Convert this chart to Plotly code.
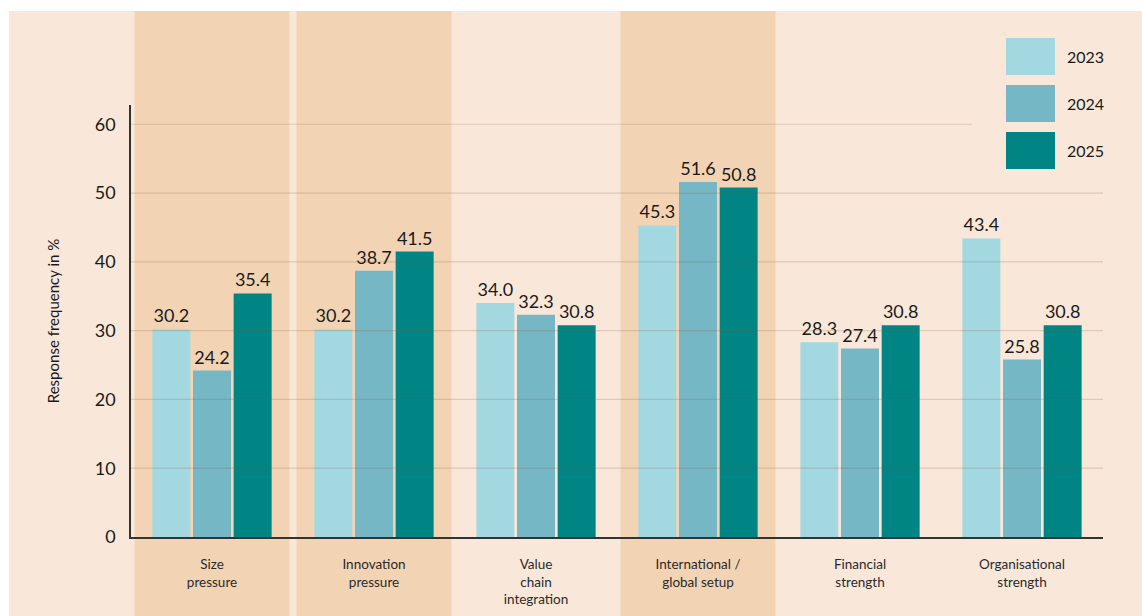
import plotly.graph_objects as go

categories = ["Size<br>pressure", "Innovation<br>pressure", "Value<br>chain<br>integration",
              "International /<br>global setup", "Financial<br>strength", "Organisational<br>strength"]
years = ["2023", "2024", "2025"]
values_2023 = [30.2, 30.2, 34.0, 45.3, 28.3, 43.4]
values_2024 = [24.2, 38.7, 32.3, 51.6, 27.4, 25.8]
values_2025 = [35.4, 41.5, 30.8, 50.8, 30.8, 30.8]
series = [values_2023, values_2024, values_2025]
colors = ["#A3D8E1", "#75B7C5", "#008484"]
shaded_categories = [0, 1, 3]
y_ticks = [0, 10, 20, 30, 40, 50, 60]

FONT = "Lato, 'Source Sans Pro', 'Noto Sans', sans-serif"
W, H = 1142, 616
L, R, T, B = 131, 39, 105, 79
PW, PH = W - L - R, H - T - B


def px_x(px):
    return (px - L) / PW


def px_y(py):
    return (H - B - py) / PH


fig = go.Figure()
for name, vals, col in zip(years, series, colors):
    fig.add_trace(go.Bar(
        x=list(range(len(categories))), y=vals, name=name,
        marker=dict(color=col, line=dict(width=0)),
        texttemplate="%{y:.1f}", textposition="outside",
        textfont=dict(family=FONT, size=18, color="#1a1a1a"),
        cliponaxis=False, showlegend=False,
    ))

shapes = []
# page background
shapes.append(dict(type="rect", xref="paper", yref="paper",
                   x0=px_x(9), x1=px_x(W + 5), y0=px_y(H + 5), y1=px_y(11),
                   fillcolor="#F9E8DA", line=dict(width=0), layer="below"))
# shaded category bands
for i in shaded_categories:
    shapes.append(dict(type="rect", xref="x", yref="paper",
                       x0=i - 0.478, x1=i + 0.478, y0=px_y(H + 5), y1=px_y(11),
                       fillcolor="#F2D4B4", line=dict(width=0), layer="below"))
# gridlines drawn above bars
for t in y_ticks[1:]:
    x1 = px_x(972) if t == y_ticks[-1] else 1
    shapes.append(dict(type="line", xref="paper", yref="y", x0=0, x1=x1, y0=t, y1=t,
                       line=dict(color="rgba(130,95,65,0.22)", width=1.2), layer="above"))
# legend squares
annotations = []
for k, (name, col) in enumerate(zip(years, colors)):
    top = 38 + k * 47
    shapes.append(dict(type="rect", xref="paper", yref="paper",
                       x0=px_x(1006), x1=px_x(1055), y0=px_y(top + 37), y1=px_y(top),
                       fillcolor=col, line=dict(width=0), layer="above"))
    annotations.append(dict(xref="paper", yref="paper", x=px_x(1065), y=px_y(top + 18.5),
                            text=name, showarrow=False, xanchor="left", yanchor="middle",
                            font=dict(family=FONT, size=16, color="#1a1a1a")))

fig.update_layout(
    width=W, height=H, autosize=False,
    margin=dict(l=L, r=R, t=T, b=B, pad=0),
    paper_bgcolor="white", plot_bgcolor="rgba(0,0,0,0)",
    barmode="group", bargap=0.247, bargroupgap=0.066,
    shapes=shapes, annotations=annotations,
    font=dict(family=FONT, color="#1a1a1a"),
)
fig.update_xaxes(
    range=[-0.5, 5.5], tickmode="array", tickvals=list(range(len(categories))),
    ticktext=categories, tickfont=dict(family=FONT, size=13.5, color="#2a2a2a"),
    showgrid=False, zeroline=False, showline=True, linecolor="#333333", linewidth=1.5,
    ticks="outside", ticklen=14, tickcolor="rgba(0,0,0,0)", automargin=False,
)
fig.update_yaxes(
    range=[0, 62.8], tickmode="array", tickvals=y_ticks,
    tickfont=dict(family=FONT, size=18, color="#1a1a1a"),
    showgrid=False, zeroline=False, showline=True, linecolor="#333333", linewidth=1.5,
    ticks="outside", ticklen=10, tickcolor="rgba(0,0,0,0)", automargin=False,
    title=dict(text="Response frequency in %", font=dict(family=FONT, size=15, color="#1a1a1a"),
               standoff=32),
)

fig.write_html("out.html")
